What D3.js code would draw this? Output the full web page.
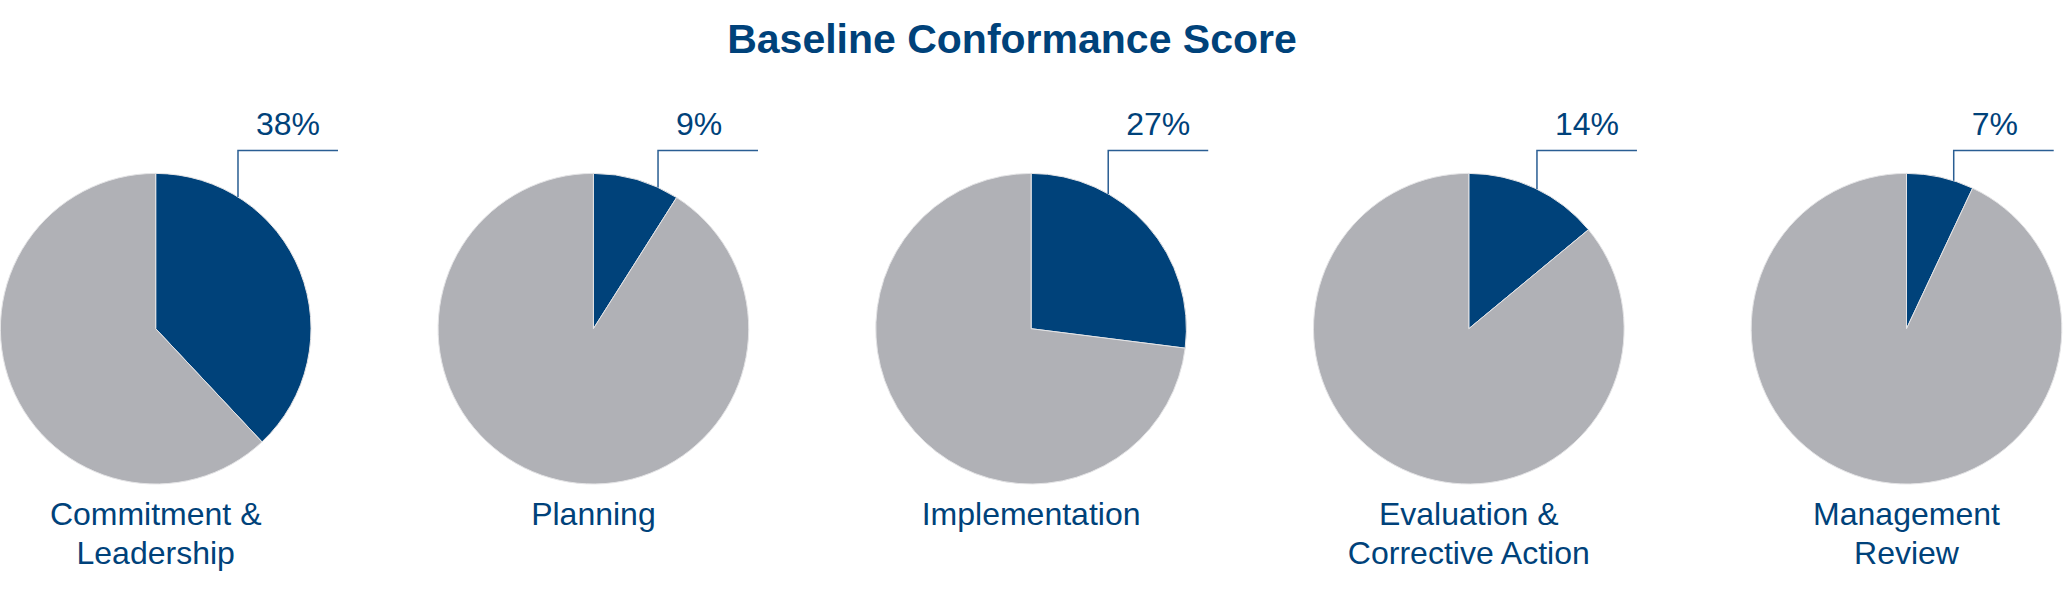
<!DOCTYPE html>
<html>
<head>
<meta charset="utf-8">
<script src="https://cdn.jsdelivr.net/npm/d3@7/dist/d3.min.js"></script>
<style>
  html, body { margin: 0; padding: 0; background: #ffffff; }
  svg { display: block; }
  text { font-family: "Liberation Sans", Arial, sans-serif; }
</style>
</head>
<body>
<svg id="chart" width="2065" height="594"></svg>
<script>
// ---- data ----
const title = "Baseline Conformance Score";
const categories = ["Commitment &\nLeadership", "Planning", "Implementation", "Evaluation &\nCorrective Action", "Management\nReview"];
const scores = [38, 9, 27, 14, 7];
const scoreLabels = ["38%", "9%", "27%", "14%", "7%"];

// ---- layout / style ----
const W = 2065, H = 594;
const blue = "#00427A", gray = "#B0B1B6", leaderColor = "#2A5E93";
const radius = 155.3, cy = 328.7;
const leaderY = 150.5, leaderLen = 100;
const deg = Math.PI / 180;

const svg = d3.select("#chart");

svg.append("text")
  .attr("x", 1012).attr("y", 53)
  .attr("text-anchor", "middle")
  .attr("font-size", 41).attr("font-weight", "bold")
  .attr("fill", blue)
  .text(title);

const x = d3.scalePoint().domain(categories).range([155.7, 1906.5]);
const pie = d3.pie().sort(null).value(d => d);
const arc = d3.arc().innerRadius(0).outerRadius(radius);

categories.forEach((cat, i) => {
  const v = scores[i];
  const cx = x(cat);
  const g = svg.append("g").attr("transform", `translate(${cx},${cy})`);
  const arcs = pie([v, 100 - v]);
  g.selectAll("path").data(arcs).join("path")
    .attr("d", arc)
    .attr("fill", (d, j) => j === 0 ? blue : gray)
    .attr("stroke", "#e4e4e6")
    .attr("stroke-width", 1);

  // leader line anchor on the arc of the blue slice
  const span = arcs[0].endAngle - arcs[0].startAngle;
  const a = Math.min(span - 7.5 * deg, 22 * deg + 0.08 * span, 32 * deg);
  const ax = radius * Math.sin(a), ay = -radius * Math.cos(a);
  const topY = leaderY - cy;
  g.append("path")
    .attr("d", d3.line()([[ax, ay], [ax, topY], [ax + leaderLen, topY]]))
    .attr("fill", "none")
    .attr("stroke", leaderColor)
    .attr("stroke-width", 1.5);
  g.append("text")
    .attr("x", ax + 18).attr("y", 135 - cy)
    .attr("font-size", 32)
    .attr("fill", blue)
    .text(scoreLabels[i]);

  // category label
  const lines = cat.split("\n");
  const t = svg.append("text")
    .attr("text-anchor", "middle")
    .attr("font-size", 32)
    .attr("fill", blue);
  lines.forEach((ln, k) => {
    t.append("tspan").attr("x", cx).attr("y", 525 + k * 38.5).text(ln);
  });
});
</script>
</body>
</html>
